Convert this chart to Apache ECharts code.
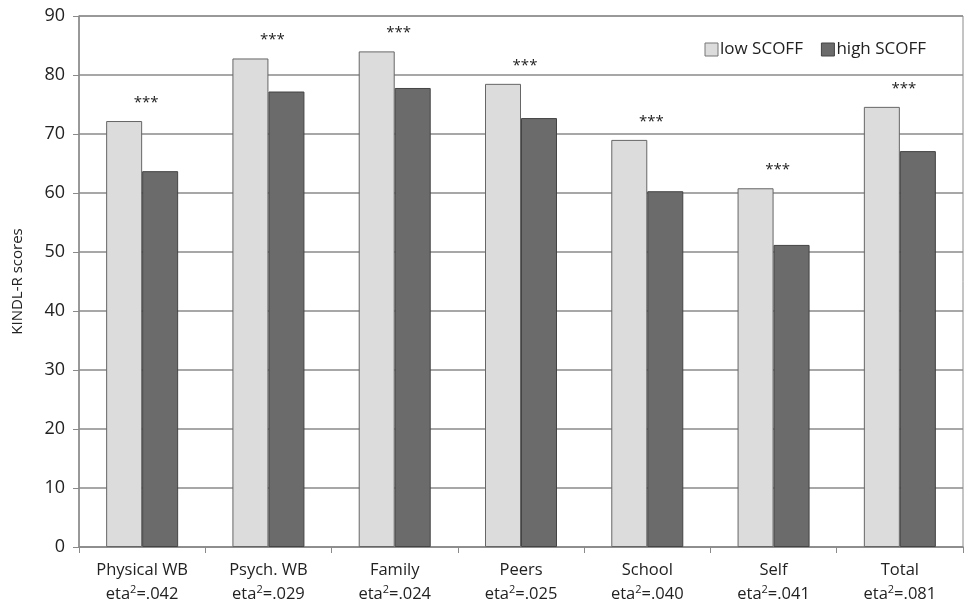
<!DOCTYPE html>
<html>
<head>
<meta charset="utf-8">
<script src="https://cdn.jsdelivr.net/npm/echarts@6/dist/echarts.min.js"></script>
<style>
  html, body { margin: 0; padding: 0; background: #fff; }
  #chart { width: 973px; height: 606px; }
</style>
</head>
<body>
<div id="chart"></div>
<script>
const categories = ['Physical WB', 'Psych. WB', 'Family', 'Peers', 'School', 'Self', 'Total'];
const etaLabels = ['.042', '.029', '.024', '.025', '.040', '.041', '.081'];
const lowScoff = [72.2, 82.8, 84.0, 78.5, 69.0, 60.8, 74.6];
const highScoff = [63.7, 77.2, 77.8, 72.7, 60.3, 51.2, 67.1];
const yTicks = { min: 0, max: 90, interval: 10 };

const font = '"Open Sans", "Noto Sans", sans-serif';
const chart = echarts.init(document.getElementById('chart'), null, { renderer: 'canvas' });

chart.setOption({
    animation: false,
    backgroundColor: '#fff',
    textStyle: { fontFamily: font },
    grid: {
        left: 79, right: 10, top: 16, bottom: 59,
        show: true, borderColor: '#8a8a8a', borderWidth: 1
    },
    legend: {
        right: 42, top: 36,
        icon: 'rect',
        itemWidth: 13, itemHeight: 13, itemGap: 18,
        textStyle: { fontSize: 17, color: '#222', fontFamily: font, padding: [0, 0, 0, -3] },
        data: [
            { name: 'low SCOFF', itemStyle: { borderColor: '#777', borderWidth: 1 } },
            { name: 'high SCOFF', itemStyle: { borderColor: '#444', borderWidth: 1 } }
        ]
    },
    xAxis: {
        type: 'category',
        data: categories,
        axisLine: { lineStyle: { color: '#8a8a8a', width: 1.5 } },
        axisTick: { show: true, length: 6, interval: 0, lineStyle: { color: '#8a8a8a' } },
        axisLabel: {
            interval: 0,
            margin: 11,
            formatter: (v, i) => `{n|${v}}\n{n|eta}{sup|2}{n|=${etaLabels[i]}}`,
            rich: {
                n: { fontSize: 16.5, color: '#222', fontFamily: font, lineHeight: 24 },
                sup: { fontSize: 11, color: '#222', fontFamily: font, lineHeight: 24, padding: [0, 0, 9, 0] }
            }
        }
    },
    yAxis: {
        type: 'value',
        min: yTicks.min, max: yTicks.max, interval: yTicks.interval,
        name: 'KINDL-R scores',
        nameLocation: 'middle',
        nameGap: 54,
        nameTextStyle: { fontSize: 15, color: '#222', fontFamily: font },
        axisLine: { show: true, lineStyle: { color: '#8a8a8a', width: 1.5 } },
        axisTick: { show: true, length: 6, lineStyle: { color: '#8a8a8a' } },
        axisLabel: { fontSize: 18, color: '#222', margin: 14, fontFamily: font },
        splitLine: { lineStyle: { color: '#8a8a8a', width: 1.5 } }
    },
    series: [
        {
            name: 'low SCOFF',
            type: 'bar',
            data: lowScoff,
            barWidth: 36,
            barGap: '0%',
            itemStyle: { color: '#dcdcdc', borderColor: '#666', borderWidth: 1 },
            label: {
                show: true,
                position: 'top',
                formatter: '***',
                offset: [22, -6],
                fontSize: 15,
                color: '#222',
                fontFamily: font
            }
        },
        {
            name: 'high SCOFF',
            type: 'bar',
            data: highScoff,
            barWidth: 36,
            itemStyle: { color: '#6b6b6b', borderColor: '#444', borderWidth: 1 }
        }
    ]
});
</script>
</body>
</html>
